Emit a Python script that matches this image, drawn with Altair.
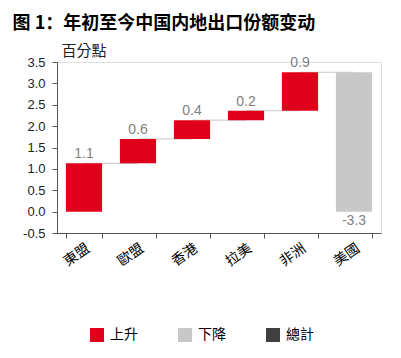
import altair as alt
import pandas as pd

categories = ["東盟", "歐盟", "香港", "拉美", "非洲", "美國"]
changes = [1.13, 0.57, 0.44, 0.22, 0.90, -3.26]
legend_labels = ["上升", "下降", "總計"]
legend_colors = ["#E0001B", "#C8C8C8", "#404040"]
y_ticks = [-0.5, 0.0, 0.5, 1.0, 1.5, 2.0, 2.5, 3.0, 3.5]

rows = []
cum = 0.0
for c, v in zip(categories, changes):
    start = cum
    end = cum + v
    cum = end
    rows.append(dict(cat=c, start=start, end=end, change=v,
                     kind=legend_labels[0] if v > 0 else legend_labels[1]))
df = pd.DataFrame(rows)

conn = pd.DataFrame([
    dict(cat=categories[i], nxt=categories[i + 1], level=rows[i]["end"])
    for i in range(len(categories) - 1)
])

NUM_FONT = "Liberation Sans"
CJK_FONT = "Noto Sans CJK TC"

xscale = alt.Scale(domain=categories, paddingInner=0.33, paddingOuter=0.165)
yscale = alt.Scale(domain=[-0.5, 3.5], nice=False, zero=False)

x_axis = alt.Axis(labelAngle=-35, labelAlign="right", labelBaseline="top",
                  labelFontSize=14, labelFont=CJK_FONT, labelColor="#000000",
                  tickBand="extent", tickSize=5, labelPadding=3,
                  domainColor="#555555", tickColor="#555555", grid=False)

y_axis = alt.Axis(values=y_ticks, labelOverlap=False, tickCount=9,
                  labelExpr="(datum.value < 0 ? '-' : '') + format(abs(datum.value), '.1f')",
                  labelFontSize=13, labelFont=NUM_FONT,
                  labelColor="#222222", labelPadding=7, tickSize=5, grid=False,
                  domainColor="#555555", tickColor="#555555",
                  title="百分點", titleAngle=0, titleAlign="left", titleBaseline="bottom",
                  titleX=4, titleY=-4, titleFontSize=15, titleFont=CJK_FONT,
                  titleFontWeight="normal", titleColor="#222222")


def xe():
    return alt.X("cat:N", sort=categories, scale=xscale, title=None, axis=x_axis)


def ye(field):
    return alt.Y(field, scale=yscale, title="百分點", axis=y_axis)


base = alt.Chart(df).transform_calculate(
    label="(datum.change < 0 ? '-' : '') + format(abs(datum.change), '.1f')"
)

connectors = alt.Chart(conn).mark_rule(color="#C8C8C8", strokeWidth=1).encode(
    x=xe(),
    x2="nxt:N",
    y=ye("level:Q"),
)

bars = base.mark_bar().encode(
    x=xe(),
    y=ye("start:Q"),
    y2="end:Q",
    color=alt.Color("kind:N", scale=alt.Scale(domain=legend_labels, range=legend_colors),
                    legend=alt.Legend(title=None, orient="none", legendX=33, legendY=266,
                                      direction="horizontal", symbolType="square",
                                      symbolSize=196, symbolStrokeWidth=0,
                                      labelFontSize=14, labelFont=CJK_FONT,
                                      labelColor="#000000", labelOffset=6,
                                      columnPadding=40)),
)

pos_labels = base.transform_filter("datum.change > 0").mark_text(
    baseline="bottom", dy=-2, fontSize=14, font=NUM_FONT, color="#7F7F7F"
).encode(
    x=xe(),
    y=ye("end:Q"),
    text="label:N",
)

neg_labels = base.transform_filter("datum.change < 0").mark_text(
    baseline="top", dy=2, fontSize=14, font=NUM_FONT, color="#7F7F7F"
).encode(
    x=xe(),
    y=ye("end:Q"),
    text="label:N",
)

chart = alt.layer(connectors, bars, pos_labels, neg_labels).properties(
    width=324, height=171,
    autosize=alt.AutoSizeParams(type="none"),
    padding={"left": 49, "top": 54, "right": 12, "bottom": 118},
    title=alt.TitleParams("图 1：年初至今中国内地出口份额变动", anchor="start",
                          fontSize=18, font="Noto Sans CJK SC", fontWeight="bold",
                          color="#000000", dx=-10, offset=10),
).configure_view(stroke=None).configure_axisY(labelOverlap=False).configure(background="white")

chart.save("out.html", embed_options={"renderer": "svg", "actions": False})
